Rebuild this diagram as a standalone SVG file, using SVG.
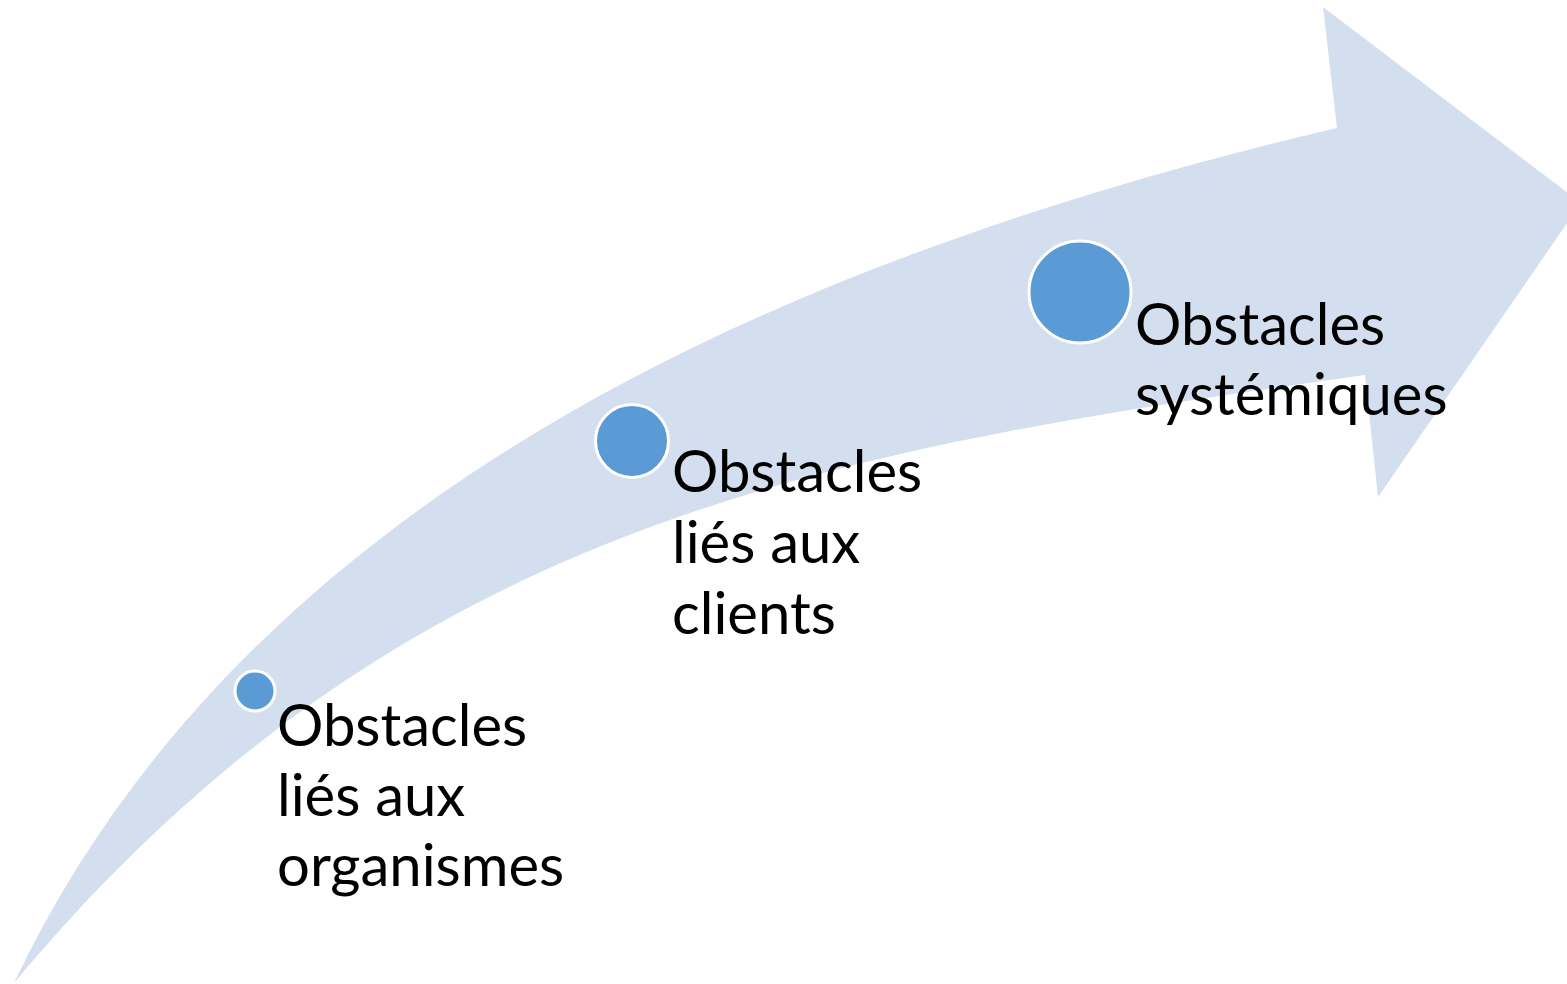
<svg xmlns="http://www.w3.org/2000/svg" width="1567" height="984" viewBox="0 0 1567 984">
  <style>
    .arrow { fill: #D3DEEF; stroke: none; }
    .dot { fill: #5B9BD5; stroke: #FFFFFF; stroke-width: 3; }
    .lbl { font-family: Lato, "Open Sans", "Liberation Sans", sans-serif; font-size: 58px; fill: #000000; }
  </style>
  <rect width="1567" height="984" fill="#FFFFFF"/>
  <g id="arrow">
    <path class="arrow" d="M14,983 C250,486 802,254 1337,128 L1323,7 L1581,203 L1378,497 L1365,375 C821,451 399,522 14,983 Z"/>
  </g>
  <g id="connectors"></g>
  <g id="node1">
    <circle class="dot" cx="255" cy="691" r="20"/>
    <text class="lbl" x="277" y="746">Obstacles</text>
    <text class="lbl" x="277" y="816">liés aux</text>
    <text class="lbl" x="277" y="886">organismes</text>
  </g>
  <g id="node2">
    <circle class="dot" cx="632" cy="441" r="36.5"/>
    <text class="lbl" x="672" y="492">Obstacles</text>
    <text class="lbl" x="672" y="563">liés aux</text>
    <text class="lbl" x="672" y="634">clients</text>
  </g>
  <g id="node3">
    <circle class="dot" cx="1080" cy="292" r="51"/>
    <text class="lbl" x="1135" y="345">Obstacles</text>
    <text class="lbl" x="1135" y="415">systémiques</text>
  </g>
</svg>
